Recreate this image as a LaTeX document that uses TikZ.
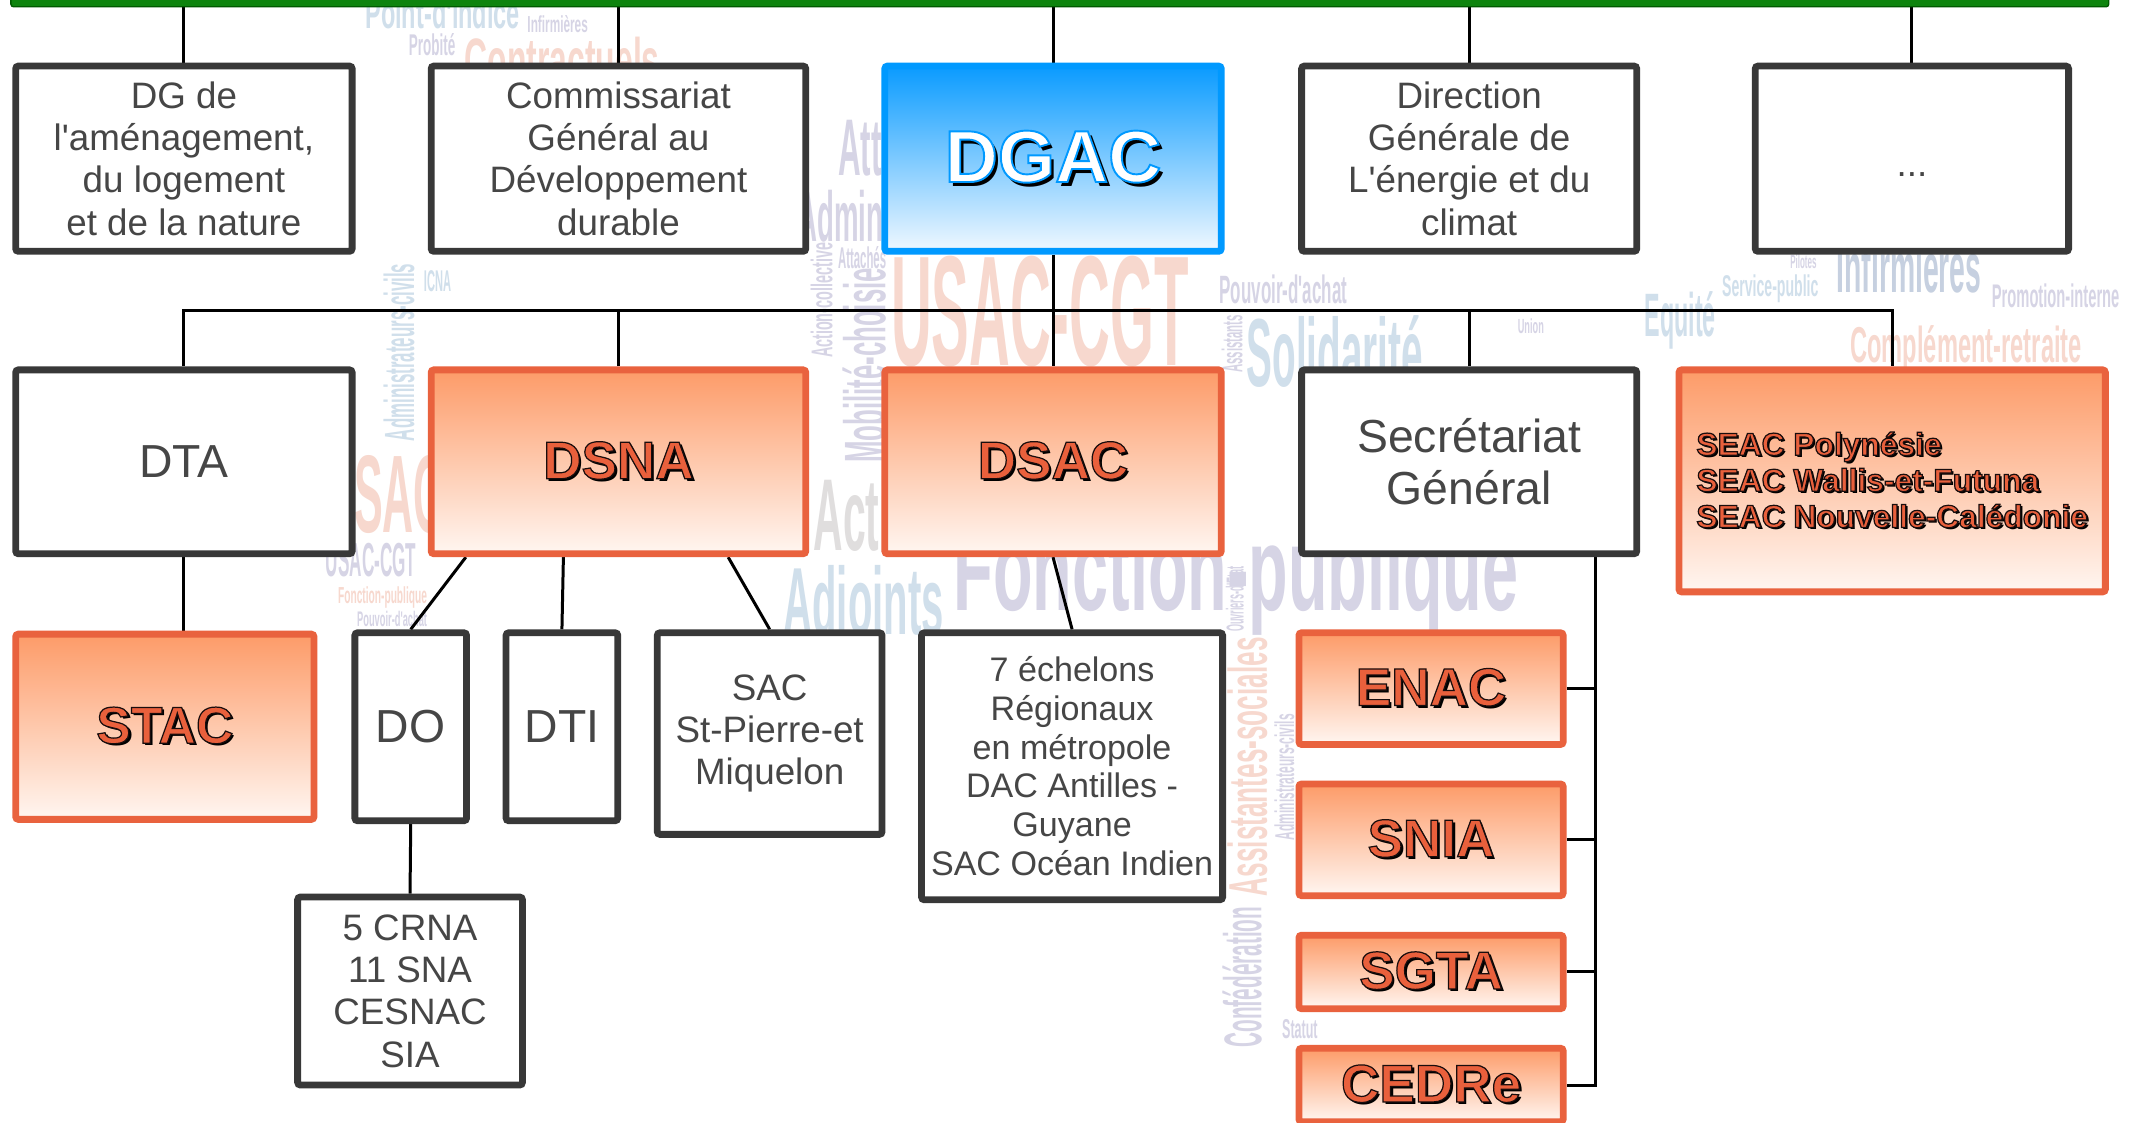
\documentclass[tikz,border=0pt]{standalone}
\usepackage{fontspec}
\setmainfont{Liberation Sans}
\usepackage{graphicx}

\definecolor{boxgray}{RGB}{56,56,56}
\definecolor{txtgray}{RGB}{70,70,70}
\definecolor{redline}{RGB}{233,98,62}
\definecolor{redtop}{RGB}{253,155,104}
\definecolor{redbot}{RGB}{255,246,241}
\definecolor{labred}{RGB}{233,96,60}
\definecolor{dgacblue}{RGB}{0,153,255}
\definecolor{dgactop}{RGB}{10,155,255}
\definecolor{dgacbot}{RGB}{240,248,255}
\definecolor{barGreen}{RGB}{14,132,14}
\definecolor{barDark}{RGB}{0,90,0}
\definecolor{cloudred}{RGB}{247,216,206}
\definecolor{cloudlav}{RGB}{214,212,229}
\definecolor{cloudblue}{RGB}{208,223,235}
\definecolor{cloudslate}{RGB}{198,208,224}
\definecolor{cloudgray}{RGB}{224,222,222}

% outlined text: fill in the current colour, stroke given as rgb
\newcommand{\outl}[3]{\special{pdf:literal direct #1 RG 2 Tr #2 w}#3\special{pdf:literal direct 0 Tr}}
\newcommand{\orlabel}[2][2pt]{\rlap{\kern#1\raisebox{-#1}{\color{black}#2}}{\color{labred}\outl{0.1 0.05 0.05}{0.9}{#2}}}
\newcommand{\cw}[2]{\scalebox{#1}[1]{\bfseries #2}}

\pgfdeclarelayer{cloud}
\pgfdeclarelayer{wires}
\pgfsetlayers{cloud,wires,main}

\begin{document}
\begin{tikzpicture}[x=1pt,y=-1pt,
  graybox/.style={draw=boxgray, line width=5, fill=white, rounded corners=2, inner sep=0, align=center, text=txtgray},
  redbox/.style={draw=redline, line width=5, top color=redtop, bottom color=redbot, rounded corners=2, inner sep=0, align=center},
  wire/.style={line width=2.2, black},
  cloud/.style={inner sep=0, anchor=base west}]
  \useasboundingbox (0,0) rectangle (1568,823.7);

  % word cloud in the back
  \begin{pgfonlayer}{cloud}
    \fill[white] (0,0) rectangle (1568,823.7);
    \node[cloud, text=cloudred, font=\fontsize{115}{115}\selectfont] (wusac) at (654,268) {\cw{.36}{USAC-CGT}};
    \node[cloud, text=cloudlav, font=\fontsize{88}{88}\selectfont] (wfonc) at (700,448) {\cw{.54}{Fonction-publique}};
    \node[cloud, text=cloudblue, font=\fontsize{71}{71}\selectfont] (wsoli) at (915,284) {\cw{.40}{Solidarité}};
    \node[cloud, text=cloudlav, font=\fontsize{29}{29}\selectfont] (wpouv) at (895,223) {\cw{.43}{Pouvoir-d\textquotesingle achat}};
    \node[cloud, text=cloudblue, font=\fontsize{70}{70}\selectfont] (wadj) at (575,466) {\cw{.42}{Adjoints}};
    \node[cloud, text=cloudslate, font=\fontsize{52}{52}\selectfont] (winf) at (1348,215) {\cw{.40}{Infirmières}};
    \node[cloud, text=cloudred, font=\fontsize{37}{37}\selectfont] (wcomp) at (1358,266) {\cw{.47}{Complément-retraite}};
    \node[cloud, text=cloudlav, font=\fontsize{24}{24}\selectfont] (wprom) at (1462,226) {\cw{.45}{Promotion-interne}};
    \node[cloud, text=cloudblue, font=\fontsize{22}{22}\selectfont] (wserv) at (1264,218) {\cw{.47}{Service-public}};
    \node[cloud, text=cloudlav, font=\fontsize{14}{14}\selectfont] (wpil) at (1314,197) {\cw{.42}{Pilotes}};
    \node[cloud, text=cloudlav, font=\fontsize{15}{15}\selectfont] (wunion) at (1114,245) {\cw{.45}{Union}};
    \node[cloud, text=cloudblue, font=\fontsize{45}{45}\selectfont] (wequi) at (1207,247) {\cw{.38}{Equité}};
    \node[cloud, rotate=90, text=cloudred, font=\fontsize{40}{40}\selectfont] (wasso) at (930,658) {\cw{.48}{Assistantes-sociales}};
    \node[cloud, rotate=90, text=cloudlav, font=\fontsize{39}{39}\selectfont] (wconf) at (926,769) {\cw{.39}{Confédération}};
    \node[cloud, rotate=90, text=cloudblue, font=\fontsize{31}{31}\selectfont] (wadm) at (304,324) {\cw{.40}{Administrateurs-civils}};
    \node[cloud, rotate=90, text=cloudlav, font=\fontsize{43}{43}\selectfont] (wmob) at (650,340) {\cw{.44}{Mobilité-choisie}};
    \node[cloud, rotate=90, text=cloudlav, font=\fontsize{22}{22}\selectfont] (wact) at (611,263) {\cw{.48}{Action-collective}};
    \node[cloud, text=cloudblue, font=\fontsize{22}{22}\selectfont] (wicna) at (311,214) {\cw{.37}{ICNA}};
    \node[cloud, text=cloudlav, font=\fontsize{35}{35}\selectfont] (wusacb) at (239,423) {\cw{.36}{USAC-CGT}};
    \node[cloud, text=cloudred, font=\fontsize{17}{17}\selectfont] (wfoncb) at (248,443) {\cw{.44}{Fonction-publique}};
    \node[cloud, text=cloudlav, font=\fontsize{15.5}{15.5}\selectfont] (wpouvb) at (262,460) {\cw{.44}{Pouvoir-d\textquotesingle achat}};
    \node[cloud, text=cloudgray, font=\fontsize{75}{75}\selectfont] (waction) at (597,404) {\cw{.40}{Action}};
    \node[cloud, text=cloudred, font=\fontsize{81}{81}\selectfont] (wusacc) at (237,391) {\cw{.39}{USAC}};
    \node[cloud, text=cloudred, font=\fontsize{45}{45}\selectfont] (wcont) at (341,60) {\cw{.52}{Contractuels}};
    \node[cloud, text=cloudblue, font=\fontsize{32}{32}\selectfont] (wpoint) at (268,21) {\cw{.54}{Point-d\textquotesingle indice}};
    \node[cloud, text=cloudlav, font=\fontsize{17}{17}\selectfont] (winfb) at (387,24) {\cw{.51}{Infirmières}};
    \node[cloud, text=cloudlav, font=\fontsize{22}{22}\selectfont] (wprob) at (300,41) {\cw{.45}{Probité}};
    \node[cloud, text=cloudlav, font=\fontsize{59}{59}\selectfont] (watt) at (615,129) {\cw{.39}{Attachés}};
    \node[cloud, text=cloudlav, font=\fontsize{52}{52}\selectfont] (wadmb) at (585,177) {\cw{.39}{Administrateurs}};
    \node[cloud, text=cloudlav, font=\fontsize{22}{22}\selectfont] (wattb) at (615,197) {\cw{.38}{Attachés}};
    \node[cloud, rotate=90, text=cloudlav, font=\fontsize{18}{18}\selectfont] (wouvr) at (913,464) {\cw{.37}{Ouvriers-d\textquotesingle Etat}};
    \node[cloud, rotate=90, text=cloudlav, font=\fontsize{21}{21}\selectfont] (wassi) at (912,274) {\cw{.40}{Assistants}};
    \node[cloud, text=cloudlav, font=\fontsize{20}{20}\selectfont] (wstat) at (941,762) {\cw{.46}{Statut}};
    \node[cloud, rotate=90, text=cloudlav, font=\fontsize{20}{20}\selectfont] (wadmc) at (950,617) {\cw{.44}{Administrateurs-civils}};
  \end{pgfonlayer}

  % top bar
  \node[fill=barGreen, draw=barDark, line width=1, rounded corners=2, inner sep=0, minimum width=1540, minimum height=7] (topbar) at (778,1.5) {};

  % first row
  \node[graybox, minimum width=247, minimum height=136, font=\fontsize{27}{31}\selectfont] (dgamen) at (135,116.5) {DG de\\l\textquotesingle aménagement,\\du logement\\et de la nature};
  \node[graybox, minimum width=275, minimum height=136, font=\fontsize{27}{31}\selectfont] (cgdd) at (454,116.5) {Commissariat\\Général au\\Développement\\durable};
  \node[draw=dgacblue, line width=5, top color=dgactop, bottom color=dgacbot, rounded corners=2, inner sep=0, minimum width=247, minimum height=136, font=\bfseries\fontsize{54}{54}\selectfont] (dgac) at (773,116.5) {\rlap{\kern3pt\raisebox{-3pt}{\color{black}DGAC}}{\color{white}\outl{0 0.6 1}{1.4}{DGAC}}};
  \node[graybox, minimum width=246, minimum height=136, font=\fontsize{27}{31}\selectfont] (dgec) at (1078.5,116.5) {Direction\\Générale de\\L\textquotesingle énergie et du\\climat};
  \node[graybox, minimum width=230, minimum height=136, font=\fontsize{27}{31}\selectfont] (etc) at (1403.5,116.5) {\strut\smash{\raisebox{-7pt}{...}}};

  % second row
  \node[graybox, minimum width=247, minimum height=135, font=\fontsize{34}{38}\selectfont] (dta) at (135,339) {DTA};
  \node[redbox, minimum width=275, minimum height=135, font=\bfseries\fontsize{39}{39}\selectfont] (dsna) at (454,339) {\orlabel{DSNA}};
  \node[redbox, minimum width=247, minimum height=135, font=\bfseries\fontsize{39}{39}\selectfont] (dsac) at (773,339) {\orlabel{DSAC}};
  \node[graybox, minimum width=246, minimum height=135, font=\fontsize{34}{38}\selectfont] (sg) at (1078.5,339) {Secrétariat\\Général};
  \node[redbox, align=left, minimum width=313, minimum height=163, font=\bfseries\fontsize{23.3}{26.5}\selectfont] (seac) at (1389,353) {\orlabel[1.5pt]{SEAC Polynésie}\\\orlabel[1.5pt]{SEAC Wallis-et-Futuna}\\\orlabel[1.5pt]{SEAC Nouvelle-Calédonie}};

  % third row
  \node[redbox, minimum width=219, minimum height=136, font=\bfseries\fontsize{38}{38}\selectfont] (stac) at (121,533.5) {\orlabel{STAC}};
  \node[graybox, minimum width=82, minimum height=138, font=\fontsize{34}{38}\selectfont] (dirop) at (301.5,533.5) {DO};
  \node[graybox, minimum width=82, minimum height=138, font=\fontsize{34}{38}\selectfont] (dirti) at (412.5,533.5) {DTI};
  \node[graybox, minimum width=165, minimum height=148, font=\fontsize{27}{31}\selectfont] (spm) at (565,538.5) {SAC\\St-Pierre-et\\Miquelon};
  \node[graybox, minimum width=221, minimum height=196, font=\fontsize{25}{28.4}\selectfont] (ech) at (787,562.5) {7 échelons\\Régionaux\\en métropole\\DAC Antilles -\\Guyane\\SAC Océan Indien};
  \node[graybox, minimum width=165, minimum height=138, font=\fontsize{27}{31}\selectfont] (crna) at (301,727.5) {5 CRNA\\11 SNA\\CESNAC\\SIA};

  % services under the SG
  \node[redbox, minimum width=194, minimum height=82, font=\bfseries\fontsize{39}{39}\selectfont] (enac) at (1050.5,505.5) {\orlabel{ENAC}};
  \node[redbox, minimum width=194, minimum height=82, font=\bfseries\fontsize{39}{39}\selectfont] (snia) at (1050.5,616.5) {\orlabel{SNIA}};
  \node[redbox, minimum width=194, minimum height=54, font=\bfseries\fontsize{39}{39}\selectfont] (sgta) at (1050.5,713.5) {\orlabel{SGTA}};
  \node[redbox, minimum width=194, minimum height=54, font=\bfseries\fontsize{39}{39}\selectfont] (cedre) at (1050.5,796.5) {\orlabel{CEDRe}};

  % links
  \begin{pgfonlayer}{wires}
    \coordinate (bus) at (0,228);
    \coordinate (rail) at (1171,409);
    \foreach \n in {dgamen,cgdd,dgac,dgec,etc}
      \draw[wire] (\n.north) -- (\n.north |- topbar.south);
    \draw[wire] (dgac.south) -- (dsac.north);
    \draw[wire] (dta.north) -- (dta.north |- bus) -- (seac.north |- bus) -- (seac.north);
    \draw[wire] (dsna.north) -- (dsna.north |- bus);
    \draw[wire] (sg.north) -- (sg.north |- bus);
    \draw[wire] (dta.south) -- (dta.south |- stac.north);
    \draw[wire] (dsna.212) -- (dirop.north);
    \draw[wire] (dsna.240) -- (dirti.north);
    \draw[wire] (dsna.319) -- (spm.north);
    \draw[wire] (dsac.south) -- (ech.north);
    \draw[wire] (dirop.south) -- (crna.north);
    \draw[wire] (rail) |- (cedre.east);
    \foreach \n in {enac,snia,sgta}
      \draw[wire] (\n.east) -- (\n.east -| rail);
  \end{pgfonlayer}
\end{tikzpicture}
\end{document}
